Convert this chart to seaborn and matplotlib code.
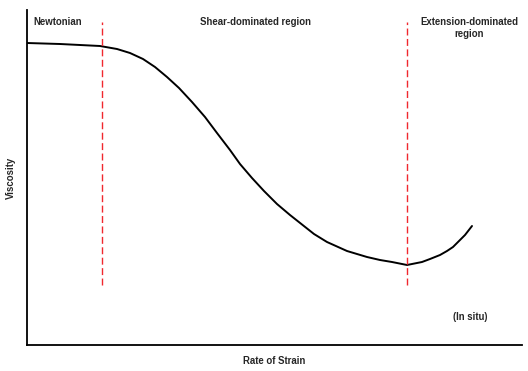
import matplotlib
matplotlib.use("Agg")
import matplotlib.pyplot as plt
import seaborn as sns
import pandas as pd

# curve (arbitrary units, x = rate of strain, y = viscosity)
strain = [0, 33, 73, 90, 103, 116, 128, 140, 152, 165, 178, 190, 203, 213, 225,
          237, 250, 263, 287, 300, 320, 340, 353, 365, 380, 395, 403, 413, 420, 426, 431, 438, 445]
viscosity = [302, 301, 299, 296, 292, 286, 278, 268, 257, 243, 228, 212, 195, 181, 167,
             154, 141, 130, 111, 103, 94, 88, 85, 83, 80, 83, 86, 90, 94, 98, 103, 110, 119]

region_bounds = [75, 380]
bound_extent = (60, 323)

region_labels = ["Newtonian", "Shear-dominated region", "Extension-dominated\nregion"]
region_label_x = [6, 228, 442]
region_label_y = [323, 323, 317]
region_label_ha = ["left", "center", "center"]
note_label = "(In situ)"

df = pd.DataFrame({"strain": strain, "viscosity": viscosity})

sns.set_style("white")
plt.rcParams["font.family"] = ["Liberation Sans", "DejaVu Sans"]

fig = plt.figure(figsize=(5.28, 3.71), dpi=100)
ax = fig.add_axes([27 / 528, 26 / 371, 495 / 528, 335 / 371])

sns.lineplot(data=df, x="strain", y="viscosity", color="black", linewidth=1.4, ax=ax)

ax.vlines(region_bounds, bound_extent[0], bound_extent[1], colors="#f0282e",
          linestyles=(0, (5, 2.5)), linewidth=1.0)

ax.set_xlim(0, 495)
ax.set_ylim(0, 335)
ax.set_xticks([])
ax.set_yticks([])
for side in ["top", "right"]:
    ax.spines[side].set_visible(False)
for side in ["left", "bottom"]:
    ax.spines[side].set_color("black")
    ax.spines[side].set_linewidth(1.3)

for lab, lx, ly, ha in zip(region_labels, region_label_x, region_label_y, region_label_ha):
    ax.text(lx, ly, lab, ha=ha, va="center", fontsize=6.9, fontweight="bold",
            linespacing=1.3)
ax.text(443, 28, note_label, ha="center", va="center", fontsize=6.9, fontweight="bold")

ax.set_xlabel("Rate of Strain", fontsize=6.9, fontweight="bold", labelpad=8)
ax.set_ylabel("Viscosity", fontsize=6.9, fontweight="bold", labelpad=8)

fig.savefig("out.png", dpi=100)
